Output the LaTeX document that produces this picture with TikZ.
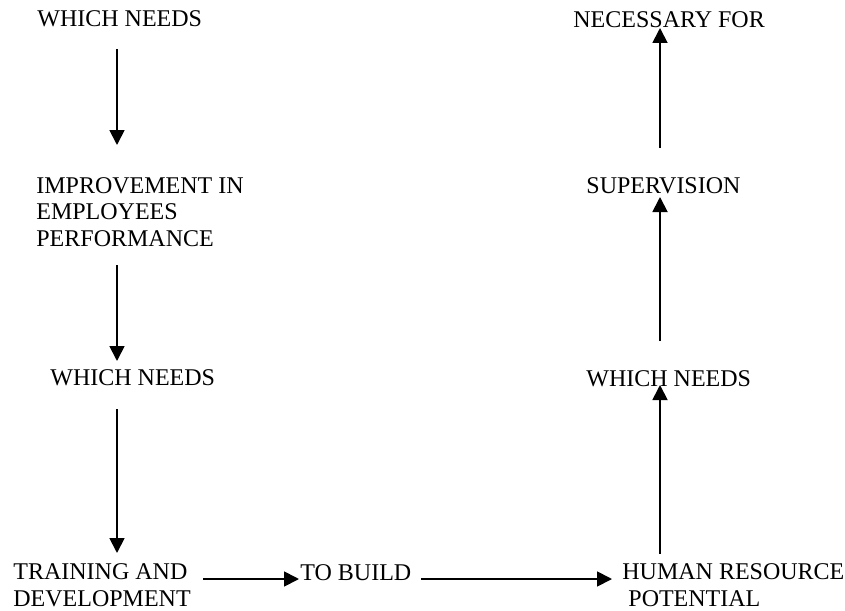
\documentclass[tikz,border=0pt]{standalone}
\usepackage{fontspec}
\setmainfont{Liberation Serif}
\usetikzlibrary{arrows.meta}
\begin{document}
\begin{tikzpicture}[x=0.5pt,y=-0.5pt,
  lbl/.style={anchor=base west,inner sep=0pt,align=left,font=\fontsize{12}{13.25}\selectfont},
  arr/.style={line width=0.9pt,-{Triangle[length=7.5pt,width=7.5pt]}}]
\useasboundingbox[fill=white] (0,0) rectangle (845,610);
% left column (multi-line nodes are placed by the baseline of their last line)
\node[lbl] (wn1) at (37,27) {WHICH NEEDS};
\node[lbl] (imp) at (36,246) {IMPROVEMENT IN\\EMPLOYEES\\PERFORMANCE};
\node[lbl] (wn2) at (50,385) {WHICH NEEDS};
\node[lbl] (td) at (13,606) {TRAINING AND\\DEVELOPMENT};
% bottom
\node[lbl] (tb) at (300,580) {TO BUILD};
\node[lbl] (hr) at (622,606) {HUMAN RESOURCE\\\hspace{3pt}POTENTIAL};
% right column
\node[lbl] (wn3) at (586,386) {WHICH NEEDS};
\node[lbl] (sup) at (586,193) {SUPERVISION};
\node[lbl] (nec) at (573,28) {NECESSARY FOR};
% connector end points
\coordinate (a1s) at (117,49);  \coordinate (a1e) at (117,145);
\coordinate (a2s) at (117,265); \coordinate (a2e) at (117,361);
\coordinate (a3s) at (117,409); \coordinate (a3e) at (117,553);
\coordinate (h1s) at (203,579); \coordinate (h1e) at (299,579);
\coordinate (h2s) at (421,579); \coordinate (h2e) at (612,579);
\coordinate (r1s) at (660,554); \coordinate (r1e) at (660,385);
\coordinate (r2s) at (660,341); \coordinate (r2e) at (660,197);
\coordinate (r3s) at (660,148); \coordinate (r3e) at (660,28);
\draw[arr] (a1s) -- (a1e);
\draw[arr] (a2s) -- (a2e);
\draw[arr] (a3s) -- (a3e);
\draw[arr] (h1s) -- (h1e);
\draw[arr] (h2s) -- (h2e);
\draw[arr] (r1s) -- (r1e);
\draw[arr] (r2s) -- (r2e);
\draw[arr] (r3s) -- (r3e);
\end{tikzpicture}
\end{document}
